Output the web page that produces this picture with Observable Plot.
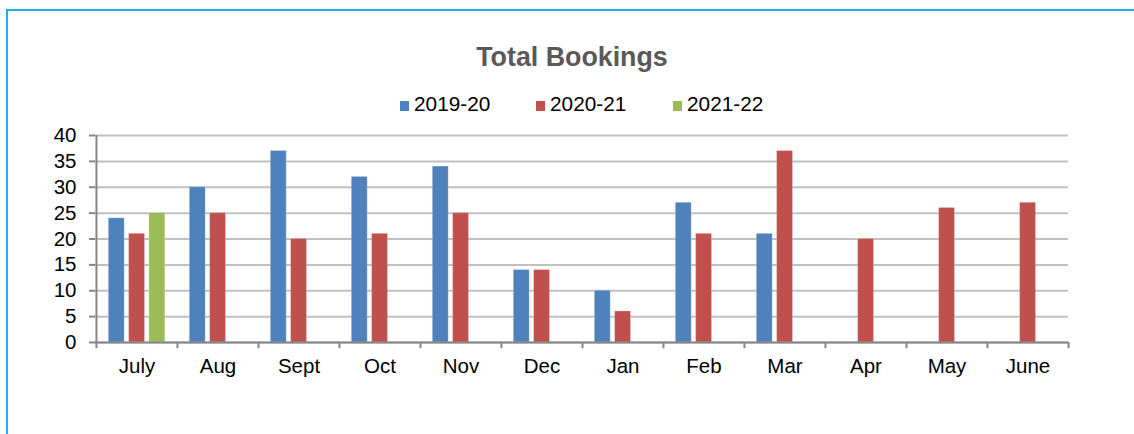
<!DOCTYPE html>
<html>
<head>
<meta charset="utf-8">
<script src="https://cdn.jsdelivr.net/npm/d3@7"></script>
<script src="https://cdn.jsdelivr.net/npm/@observablehq/plot@0.6"></script>
<style>
  html, body { margin: 0; padding: 0; background: #fff; }
  #wrap { position: relative; width: 1134px; height: 434px; overflow: hidden; font-family: "Liberation Sans", Arial, sans-serif; }
  #border { position: absolute; left: 6px; top: 9px; width: 1200px; height: 500px; border-top: 2px solid #1cb1e9; border-left: 2px solid #1cb1e9; }
  #title { position: absolute; left: 0; width: 1144px; top: 42px; text-align: center; font-weight: bold; font-size: 26.8px; color: #595959; }
  #legend { position: absolute; top: 92px; left: 0; height: 24px; }
  .item { position: absolute; white-space: nowrap; font-size: 20.8px; color: #000; }
  .sw { display: inline-block; width: 9px; height: 10px; margin-right: 5px; }
  #chart { position: absolute; left: 0; top: 120px; }
</style>
</head>
<body>
<div id="wrap">
  <div id="border"></div>
  <div id="title">Total Bookings</div>
  <div id="legend"></div>
  <div id="chart"></div>
</div>
<script>
const months = ["July","Aug","Sept","Oct","Nov","Dec","Jan","Feb","Mar","Apr","May","June"];
const seriesNames = ["2019-20","2020-21","2021-22"];
const seriesColors = ["#4f81bd","#c0504d","#9bbb59"];
const s2019 = [24,30,37,32,34,14,10,27,21,null,null,null];
const s2020 = [21,25,20,21,25,14,6,21,37,20,26,27];
const s2021 = [25,null,null,null,null,null,null,null,null,null,null,null];
const yTicks = [0,5,10,15,20,25,30,35,40];

const values = [s2019, s2020, s2021];
const rows = [];
values.forEach((arr, si) => arr.forEach((v, mi) => { if (v != null) rows.push({month: months[mi], series: seriesNames[si], value: v}); }));

// legend
const legendLeft = [400, 536, 673];
const lg = document.getElementById("legend");
seriesNames.forEach((n, i) => {
  const d = document.createElement("div");
  d.className = "item";
  d.style.left = legendLeft[i] + "px";
  d.innerHTML = `<span class="sw" style="background:${seriesColors[i]}"></span>${n}`;
  lg.appendChild(d);
});

const W = 1134, H = 280, mL = 95, mR = 66, mT = 15, mB = 58;
const bw = (W - mL - mR) / months.length;
const barW = 16, gap = 4.3, outer = 12.3;
function insets(i) {
  const l = outer + i * (barW + gap);
  return {insetLeft: l, insetRight: bw - l - barW};
}

const marks = [
  Plot.gridY(yTicks, {stroke: "#c0c0c0", strokeOpacity: 1, strokeWidth: 2}),
  ...seriesNames.map((n, i) => Plot.barY(rows.filter(r => r.series === n), {
    x: "month", y: "value", fill: seriesColors[i], stroke: "#ffffff", strokeOpacity: 0.25, strokeWidth: 1, ...insets(i)
  })),
  Plot.axisY(yTicks, {tickSize: 6, tickPadding: 13, stroke: "#868686", strokeWidth: 2, fontSize: 20.5, fill: "#000", tickFormat: d => d, label: null}),
  Plot.axisX({tickSize: 0, tickPadding: 16, fontSize: 20.5, fill: "#000", label: null}),
  Plot.ruleX(months, {x: d => d, dx: -bw / 2, y1: 0, y2: -1.2, stroke: "#868686", strokeWidth: 2}),
  Plot.ruleX(months.slice(-1), {x: d => d, dx: bw / 2, y1: 0, y2: -1.2, stroke: "#868686", strokeWidth: 2}),
  Plot.ruleX(months.slice(0, 1), {x: d => d, dx: -bw / 2, y1: 0, y2: 40, stroke: "#868686", strokeWidth: 2}),
  Plot.ruleY([0], {stroke: "#868686", strokeWidth: 2})
];

const chart = Plot.plot({
  width: W, height: H,
  marginLeft: mL, marginRight: mR, marginTop: mT, marginBottom: mB,
  style: {fontFamily: "'Liberation Sans', Arial, sans-serif", background: "transparent", overflow: "visible"},
  x: {domain: months, padding: 0, axis: null},
  y: {domain: [0, 40], axis: null},
  marks
});
document.getElementById("chart").appendChild(chart);
</script>
</body>
</html>
